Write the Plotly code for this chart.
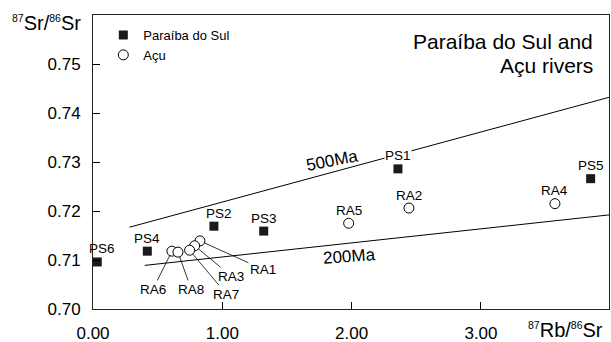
import plotly.graph_objects as go

# --- data ---
ps_names = ["PS1", "PS2", "PS3", "PS4", "PS5", "PS6"]
ps_x = [2.358, 0.935, 1.32, 0.42, 3.848, 0.033]
ps_y = [0.7286, 0.7169, 0.7159, 0.7118, 0.7266, 0.7096]

ra_names = ["RA1", "RA2", "RA3", "RA4", "RA5", "RA6", "RA7", "RA8"]
ra_x = [0.827, 2.443, 0.786, 3.572, 1.977, 0.61, 0.747, 0.657]
ra_y = [0.7139, 0.7206, 0.7129, 0.7215, 0.7175, 0.7118, 0.7120, 0.7116]

# callout label positions for the crowded RA points
callout_names = ["RA1", "RA3", "RA7", "RA8", "RA6"]
callout_x = [1.314, 1.07, 1.031, 0.76, 0.463]
callout_y = [0.7081, 0.7067, 0.70305, 0.7040, 0.7040]

iso500_x = [0.283, 3.99]
iso500_y = [0.7167, 0.7432]
iso200_x = [0.40, 3.99]
iso200_y = [0.7089, 0.7192]

x_ticks = [0, 1, 2, 3]
x_ticklabels = ["0.00", "1.00", "2.00", "3.00"]
y_ticks = [0.70, 0.71, 0.72, 0.73, 0.74, 0.75]
y_ticklabels = ["0.70", "0.71", "0.72", "0.73", "0.74", "0.75"]

title_lines = ["Paraíba do Sul and", "Açu rivers"]

FONT = "Liberation Sans, Arial, sans-serif"

fig = go.Figure()
fig.add_trace(go.Scatter(x=iso500_x, y=iso500_y, mode="lines",
                         line=dict(color="black", width=1), showlegend=False, hoverinfo="skip"))
fig.add_trace(go.Scatter(x=iso200_x, y=iso200_y, mode="lines",
                         line=dict(color="black", width=1), showlegend=False, hoverinfo="skip"))
fig.add_trace(go.Scatter(x=ps_x, y=ps_y, mode="markers", name="Paraíba do Sul",
                         marker=dict(symbol="square", size=9, color="#1a1a1a",
                                     line=dict(color="#1a1a1a", width=0))))
fig.add_trace(go.Scatter(x=ra_x, y=ra_y, mode="markers", name="Açu",
                         marker=dict(symbol="circle", size=10, color="white",
                                     line=dict(color="black", width=1))))

annotations = []
callout_set = set(callout_names)
for n, x, y in zip(ps_names, ps_x, ps_y):
    a = dict(x=x, y=y, text=n, showarrow=False, yshift=13,
             xshift=5 if n in ("PS6", "PS2") else 0,
             font=dict(size=13.5, color="black", family=FONT), borderpad=0)
    if n == "PS1":
        a["bgcolor"] = "white"
    annotations.append(a)
for n, x, y in zip(ra_names, ra_x, ra_y):
    if n in callout_set:
        continue
    annotations.append(dict(x=x, y=y, text=n, showarrow=False, yshift=13,
                            font=dict(size=13.5, color="black", family=FONT)))
for n, lx, ly in zip(callout_names, callout_x, callout_y):
    i = ra_names.index(n)
    annotations.append(dict(x=ra_x[i], y=ra_y[i], ax=lx, ay=ly, axref="x", ayref="y",
                            text=n, showarrow=True, arrowhead=0, arrowwidth=0.8,
                            arrowcolor="black", standoff=5,
                            font=dict(size=13.5, color="black", family=FONT)))

annotations += [
    dict(x=1.855, y=0.7303, text="500Ma", showarrow=False, textangle=-11,
         font=dict(size=17, color="black", family=FONT)),
    dict(x=1.98, y=0.7108, text="200Ma", showarrow=False, textangle=-4,
         font=dict(size=17, color="black", family=FONT)),
    dict(xref="paper", yref="paper", x=0.972, y=0.909, xanchor="right", yanchor="middle",
         text=title_lines[0], showarrow=False,
         font=dict(size=21, color="black", family=FONT)),
    dict(xref="paper", yref="paper", x=0.972, y=0.829, xanchor="right", yanchor="middle",
         text=title_lines[1], showarrow=False,
         font=dict(size=21, color="black", family=FONT)),
    dict(xref="paper", yref="paper", x=-0.019, y=0.972, xanchor="right", yanchor="middle",
         text="<sup><span style='font-size:10.5px'>87</span></sup>Sr/<sup><span style='font-size:10.5px'>86</span></sup>Sr",
         showarrow=False, font=dict(size=20, color="black", family=FONT)),
    dict(xref="paper", yref="paper", x=0.915, y=-0.07, xanchor="center", yanchor="middle",
         text="<sup><span style='font-size:10.5px'>87</span></sup>Rb/<sup><span style='font-size:10.5px'>86</span></sup>Sr",
         showarrow=False, font=dict(size=20, color="black", family=FONT)),
]

fig.update_layout(
    width=611, height=342,
    margin=dict(l=93, r=2, t=15, b=33, autoexpand=False),
    paper_bgcolor="white", plot_bgcolor="white",
    font=dict(family=FONT, color="black"),
    annotations=annotations,
    legend=dict(x=0.02, y=0.983, xanchor="left", yanchor="top",
                font=dict(size=13, color="black", family=FONT),
                bgcolor="rgba(0,0,0,0)", itemclick=False),
    xaxis=dict(range=[0, 3.99], tickvals=x_ticks, ticktext=x_ticklabels,
               ticks="inside", ticklen=7, tickcolor="black", tickwidth=1,
               showline=True, linecolor="#222", linewidth=1, mirror=True,
               showgrid=False, zeroline=False, ticklabelstandoff=9, automargin=False,
               tickfont=dict(size=17, color="black", family=FONT)),
    yaxis=dict(range=[0.70, 0.76], tickvals=y_ticks, ticktext=y_ticklabels,
               ticks="inside", ticklen=7, tickcolor="black", tickwidth=1,
               showline=True, linecolor="#222", linewidth=1, mirror=True,
               showgrid=False, zeroline=False, ticklabelstandoff=8, automargin=False,
               tickfont=dict(size=17, color="black", family=FONT)),
)

fig.write_html("out.html")
